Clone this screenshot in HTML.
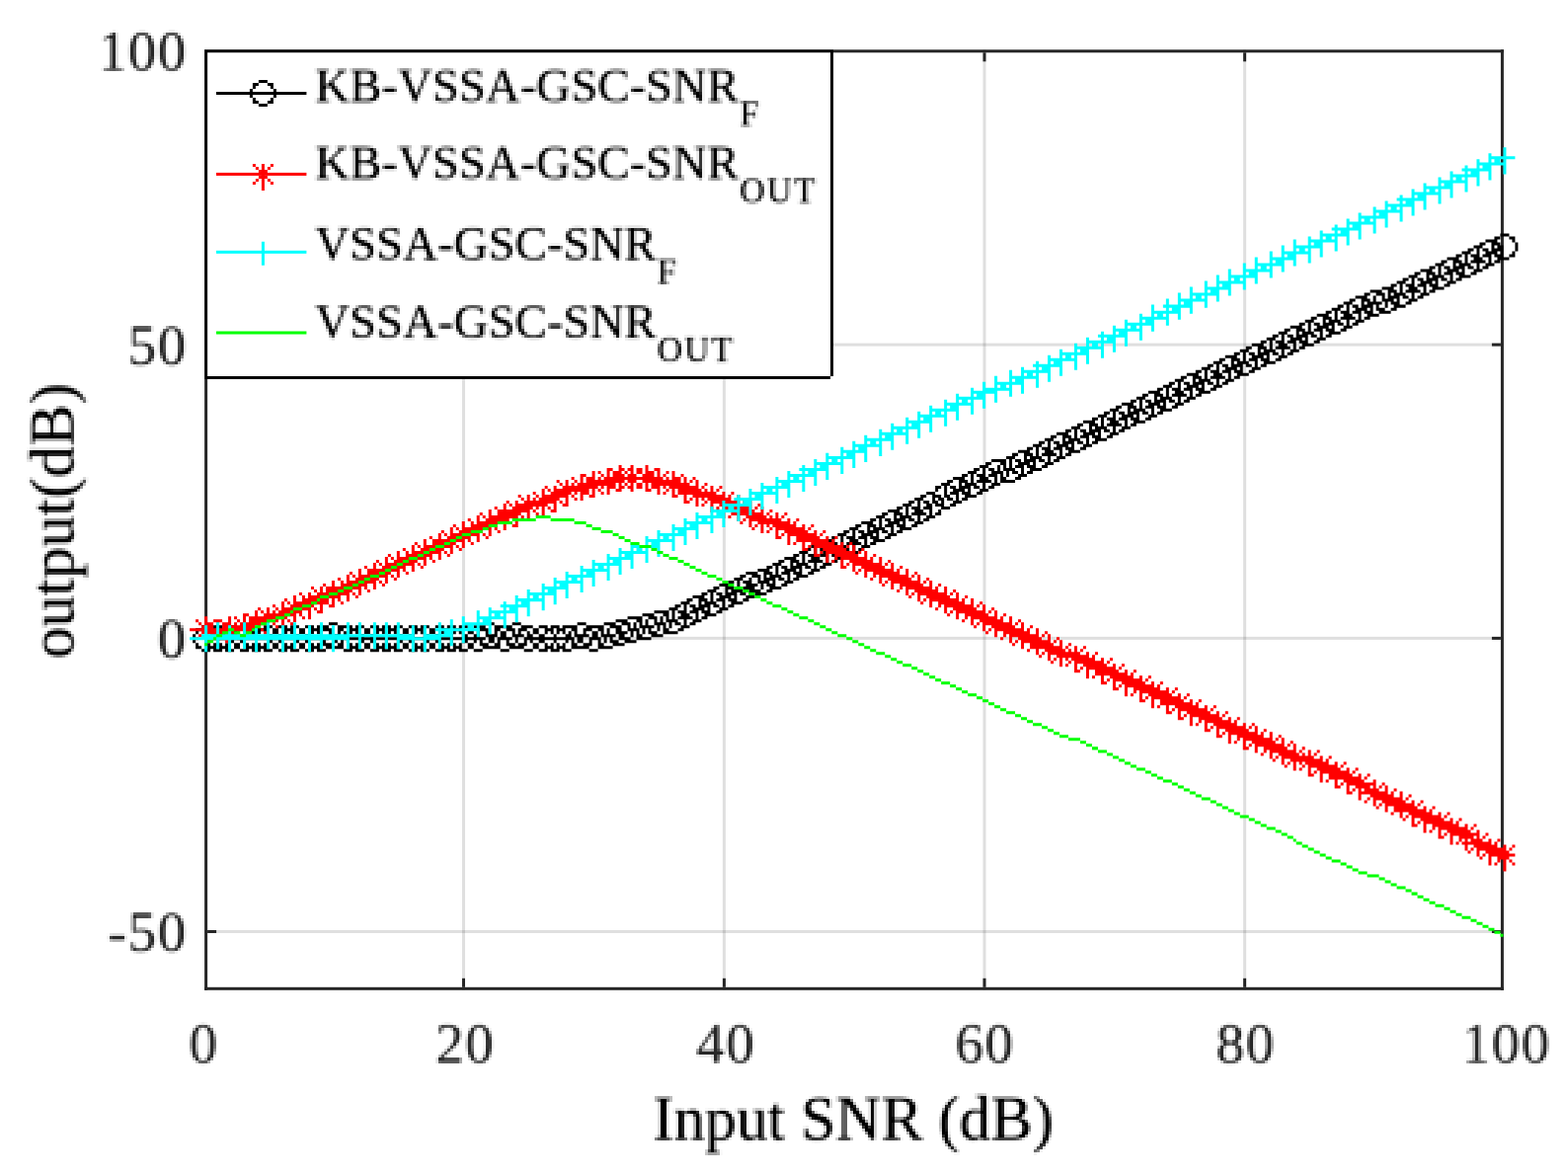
<!DOCTYPE html>
<html lang="en">
<head>
<meta charset="utf-8">
<title>Output SNR versus input SNR</title>
<style>
html,body{margin:0;padding:0;background:#fff;}
body{width:1588px;height:1190px;overflow:hidden;font-family:'Liberation Serif', 'Times New Roman', Times, serif;}
svg text{font-kerning:none;}
</style>
</head>
<body>
<svg width="1588" height="1190" viewBox="0 0 1588 1190" font-family="'Liberation Serif', 'Times New Roman', Times, serif" style="display:block"><defs><filter id="lowres" x="0" y="0" width="1588" height="1190" filterUnits="userSpaceOnUse" color-interpolation-filters="sRGB"><feGaussianBlur in="SourceGraphic" stdDeviation="0.87" result="b"/><feFlood x="1" y="1" width="1" height="1" flood-color="#000" result="f"/><feComposite in="f" in2="f" operator="over" x="0" y="0" width="3" height="3" result="c"/><feTile in="c" result="t"/><feComposite in="b" in2="t" operator="in" result="s"/><feMorphology in="s" operator="dilate" radius="1" result="m"/><feComponentTransfer in="m"><feFuncA type="linear" slope="1.15" intercept="0"/></feComponentTransfer></filter></defs><rect x="0" y="0" width="1588" height="1190" fill="#ffffff"/>
<rect x="468.0" y="50.3" width="3.0" height="952.5" fill="#262626" fill-opacity="0.15"/>
<rect x="731.9" y="50.3" width="3.0" height="952.5" fill="#262626" fill-opacity="0.15"/>
<rect x="995.5" y="50.3" width="3.0" height="952.5" fill="#262626" fill-opacity="0.15"/>
<rect x="1259.1" y="50.3" width="3.0" height="952.5" fill="#262626" fill-opacity="0.15"/>
<rect x="207.1" y="347.6" width="1315.8000000000002" height="3.0" fill="#262626" fill-opacity="0.15"/>
<rect x="207.1" y="644.9" width="1315.8000000000002" height="3.0" fill="#262626" fill-opacity="0.15"/>
<rect x="207.1" y="942.0" width="1315.8000000000002" height="3.0" fill="#262626" fill-opacity="0.15"/>
<rect x="207.1" y="50.3" width="1315.8000000000002" height="3.0" fill="#262626"/>
<rect x="207.1" y="999.8" width="1315.8000000000002" height="3.0" fill="#262626"/>
<rect x="207.1" y="50.3" width="3.0" height="952.5" fill="#262626"/>
<rect x="1519.9" y="50.3" width="3.0" height="952.5" fill="#262626"/>
<rect x="468.0" y="990.8" width="3.0" height="9.0" fill="#262626"/>
<rect x="468.0" y="53.3" width="3.0" height="9.0" fill="#262626"/>
<rect x="731.9" y="990.8" width="3.0" height="9.0" fill="#262626"/>
<rect x="731.9" y="53.3" width="3.0" height="9.0" fill="#262626"/>
<rect x="995.5" y="990.8" width="3.0" height="9.0" fill="#262626"/>
<rect x="995.5" y="53.3" width="3.0" height="9.0" fill="#262626"/>
<rect x="1259.1" y="990.8" width="3.0" height="9.0" fill="#262626"/>
<rect x="1259.1" y="53.3" width="3.0" height="9.0" fill="#262626"/>
<rect x="210.1" y="347.6" width="9.0" height="3.0" fill="#262626"/>
<rect x="1510.9" y="347.6" width="9.0" height="3.0" fill="#262626"/>
<rect x="210.1" y="644.9" width="9.0" height="3.0" fill="#262626"/>
<rect x="1510.9" y="644.9" width="9.0" height="3.0" fill="#262626"/>
<rect x="210.1" y="942.0" width="9.0" height="3.0" fill="#262626"/>
<rect x="1510.9" y="942.0" width="9.0" height="3.0" fill="#262626"/>
<g transform="matrix(2.9962 0 0 3.00505 0.36 -0.9)"><path fill="#000000" d="M507 79h3v1h-3zM505 80h2v1h-2zM510 80h2v1h-2zM502 81h4v1h-4zM511 81h1v1h-1zM500 82h2v1h-2zM504 82h3v1h-3zM512 82h1v3h-1zM498 83h3v1h-3zM504 83h1v1h-1zM506 83h2v1h-2zM496 84h2v1h-2zM499 84h1v2h-1zM501 84h2v1h-2zM504 84h4v1h-4zM494 85h3v1h-3zM502 85h4v1h-4zM507 85h1v1h-1zM511 85h1v1h-1zM492 86h2v1h-2zM495 86h1v3h-1zM497 86h3v1h-3zM501 86h3v1h-3zM505 86h3v1h-3zM510 86h2v1h-2zM489 87h4v1h-4zM498 87h3v1h-3zM503 87h1v2h-1zM506 87h4v1h-4zM487 88h2v1h-2zM491 88h3v1h-3zM497 88h5v1h-5zM505 88h2v1h-2zM485 89h3v1h-3zM491 89h1v1h-1zM493 89h4v1h-4zM499 89h1v2h-1zM502 89h3v1h-3zM483 90h2v1h-2zM486 90h1v3h-1zM488 90h2v1h-2zM491 90h4v1h-4zM496 90h2v1h-2zM501 90h2v1h-2zM480 91h4v1h-4zM489 91h4v1h-4zM494 91h1v1h-1zM498 91h3v1h-3zM478 92h2v1h-2zM482 92h3v1h-3zM488 92h3v1h-3zM492 92h3v1h-3zM497 92h2v1h-2zM476 93h3v1h-3zM482 93h1v1h-1zM484 93h4v1h-4zM490 93h1v2h-1zM493 93h4v1h-4zM474 94h2v1h-2zM477 94h1v2h-1zM479 94h2v1h-2zM482 94h4v1h-4zM487 94h2v1h-2zM492 94h2v1h-2zM472 95h3v1h-3zM480 95h4v1h-4zM485 95h1v1h-1zM489 95h3v1h-3zM470 96h2v1h-2zM473 96h1v3h-1zM475 96h3v1h-3zM479 96h3v1h-3zM483 96h3v1h-3zM488 96h2v1h-2zM467 97h4v1h-4zM476 97h3v1h-3zM481 97h1v2h-1zM484 97h4v1h-4zM463 98h4v1h-4zM469 98h3v1h-3zM475 98h5v1h-5zM483 98h2v1h-2zM461 99h2v1h-2zM465 99h3v1h-3zM469 99h1v1h-1zM471 99h4v1h-4zM477 99h1v2h-1zM480 99h3v1h-3zM458 100h4v1h-4zM464 100h1v2h-1zM467 100h1v1h-1zM469 100h4v1h-4zM474 100h2v1h-2zM479 100h2v1h-2zM456 101h2v1h-2zM460 101h3v1h-3zM467 101h4v1h-4zM472 101h1v1h-1zM476 101h3v1h-3zM454 102h3v1h-3zM460 102h1v1h-1zM462 102h5v1h-5zM468 102h1v2h-1zM470 102h3v1h-3zM475 102h2v1h-2zM452 103h2v1h-2zM455 103h1v2h-1zM457 103h2v1h-2zM460 103h4v1h-4zM465 103h1v1h-1zM471 103h4v1h-4zM450 104h3v1h-3zM458 104h4v1h-4zM463 104h1v1h-1zM465 104h3v1h-3zM470 104h2v1h-2zM448 105h2v1h-2zM451 105h1v3h-1zM453 105h3v1h-3zM457 105h3v1h-3zM461 105h3v1h-3zM466 105h4v1h-4zM445 106h4v1h-4zM454 106h3v1h-3zM459 106h1v2h-1zM462 106h4v1h-4zM443 107h2v1h-2zM447 107h3v1h-3zM453 107h5v1h-5zM461 107h2v1h-2zM441 108h3v1h-3zM447 108h1v1h-1zM449 108h4v1h-4zM455 108h1v2h-1zM458 108h3v1h-3zM439 109h2v1h-2zM442 109h1v3h-1zM444 109h2v1h-2zM447 109h4v1h-4zM452 109h2v1h-2zM457 109h2v1h-2zM436 110h4v1h-4zM445 110h4v1h-4zM450 110h1v1h-1zM454 110h3v1h-3zM434 111h2v1h-2zM438 111h3v1h-3zM444 111h3v1h-3zM448 111h3v1h-3zM453 111h2v1h-2zM432 112h3v1h-3zM438 112h1v1h-1zM440 112h4v1h-4zM446 112h1v2h-1zM449 112h4v1h-4zM430 113h2v1h-2zM433 113h1v2h-1zM435 113h2v1h-2zM438 113h4v1h-4zM443 113h2v1h-2zM448 113h2v1h-2zM428 114h3v1h-3zM436 114h4v1h-4zM441 114h1v1h-1zM445 114h3v1h-3zM426 115h2v1h-2zM429 115h1v3h-1zM431 115h3v1h-3zM435 115h3v1h-3zM439 115h3v1h-3zM444 115h2v1h-2zM423 116h4v1h-4zM432 116h3v1h-3zM437 116h1v2h-1zM440 116h4v1h-4zM421 117h2v1h-2zM425 117h3v1h-3zM431 117h5v1h-5zM439 117h2v1h-2zM419 118h3v1h-3zM425 118h1v1h-1zM427 118h4v1h-4zM433 118h1v2h-1zM436 118h3v1h-3zM417 119h2v1h-2zM420 119h1v3h-1zM422 119h2v1h-2zM425 119h4v1h-4zM430 119h2v1h-2zM435 119h2v1h-2zM414 120h4v1h-4zM423 120h4v1h-4zM428 120h1v1h-1zM432 120h3v1h-3zM412 121h2v1h-2zM416 121h3v1h-3zM422 121h3v1h-3zM426 121h3v1h-3zM431 121h2v1h-2zM410 122h3v1h-3zM416 122h1v1h-1zM418 122h4v1h-4zM424 122h1v2h-1zM427 122h4v1h-4zM408 123h2v1h-2zM411 123h1v2h-1zM413 123h2v1h-2zM416 123h4v1h-4zM421 123h2v1h-2zM426 123h2v1h-2zM406 124h3v1h-3zM414 124h4v1h-4zM419 124h1v1h-1zM423 124h3v1h-3zM404 125h2v1h-2zM407 125h1v3h-1zM409 125h3v1h-3zM413 125h3v1h-3zM417 125h3v1h-3zM422 125h2v1h-2zM401 126h4v1h-4zM410 126h3v1h-3zM415 126h1v2h-1zM418 126h4v1h-4zM399 127h2v1h-2zM403 127h3v1h-3zM409 127h5v1h-5zM417 127h2v1h-2zM397 128h3v1h-3zM403 128h1v1h-1zM405 128h4v1h-4zM411 128h1v2h-1zM414 128h3v1h-3zM395 129h2v1h-2zM398 129h1v2h-1zM400 129h2v1h-2zM403 129h4v1h-4zM408 129h2v1h-2zM413 129h2v1h-2zM393 130h3v1h-3zM401 130h4v1h-4zM406 130h1v1h-1zM410 130h3v1h-3zM391 131h2v1h-2zM394 131h1v3h-1zM396 131h3v1h-3zM400 131h3v1h-3zM404 131h3v1h-3zM409 131h2v1h-2zM388 132h4v1h-4zM397 132h3v1h-3zM402 132h1v2h-1zM405 132h4v1h-4zM386 133h2v1h-2zM390 133h3v1h-3zM396 133h5v1h-5zM404 133h2v1h-2zM384 134h3v1h-3zM390 134h1v1h-1zM392 134h4v1h-4zM398 134h1v2h-1zM401 134h3v1h-3zM382 135h2v1h-2zM385 135h1v3h-1zM387 135h2v1h-2zM390 135h4v1h-4zM395 135h2v1h-2zM400 135h2v1h-2zM379 136h4v1h-4zM388 136h4v1h-4zM393 136h1v1h-1zM397 136h3v1h-3zM377 137h2v1h-2zM381 137h3v1h-3zM387 137h3v1h-3zM391 137h3v1h-3zM396 137h2v1h-2zM375 138h3v1h-3zM381 138h1v1h-1zM383 138h4v1h-4zM389 138h1v2h-1zM392 138h4v1h-4zM373 139h2v1h-2zM376 139h1v2h-1zM378 139h2v1h-2zM381 139h4v1h-4zM386 139h2v1h-2zM391 139h2v1h-2zM371 140h3v1h-3zM379 140h4v1h-4zM384 140h1v1h-1zM388 140h3v1h-3zM369 141h2v1h-2zM372 141h1v3h-1zM374 141h3v1h-3zM378 141h3v1h-3zM382 141h3v1h-3zM387 141h2v1h-2zM366 142h4v1h-4zM375 142h3v1h-3zM380 142h1v2h-1zM383 142h4v1h-4zM364 143h2v1h-2zM368 143h3v1h-3zM374 143h5v1h-5zM382 143h2v1h-2zM362 144h3v1h-3zM368 144h1v1h-1zM370 144h4v1h-4zM376 144h1v2h-1zM379 144h3v1h-3zM360 145h2v1h-2zM363 145h1v3h-1zM365 145h2v1h-2zM368 145h4v1h-4zM373 145h2v1h-2zM378 145h2v1h-2zM357 146h4v1h-4zM366 146h4v1h-4zM371 146h1v1h-1zM375 146h3v1h-3zM355 147h2v1h-2zM359 147h3v1h-3zM365 147h3v1h-3zM369 147h3v1h-3zM374 147h2v1h-2zM353 148h3v1h-3zM359 148h1v1h-1zM361 148h4v1h-4zM367 148h1v2h-1zM370 148h4v1h-4zM351 149h2v1h-2zM354 149h1v2h-1zM356 149h2v1h-2zM359 149h4v1h-4zM364 149h2v1h-2zM369 149h2v1h-2zM349 150h3v1h-3zM357 150h4v1h-4zM362 150h1v1h-1zM366 150h3v1h-3zM347 151h2v1h-2zM350 151h1v3h-1zM352 151h3v1h-3zM356 151h3v1h-3zM360 151h3v1h-3zM365 151h2v1h-2zM344 152h4v1h-4zM353 152h3v1h-3zM358 152h1v2h-1zM361 152h4v1h-4zM342 153h2v1h-2zM346 153h3v1h-3zM352 153h5v1h-5zM360 153h2v1h-2zM340 154h3v1h-3zM346 154h1v1h-1zM348 154h4v1h-4zM354 154h1v2h-1zM357 154h3v1h-3zM335 155h5v1h-5zM341 155h1v3h-1zM343 155h2v1h-2zM346 155h4v1h-4zM351 155h2v1h-2zM356 155h2v1h-2zM333 156h2v1h-2zM338 156h2v1h-2zM344 156h4v1h-4zM349 156h1v1h-1zM353 156h3v1h-3zM331 157h3v1h-3zM337 157h1v2h-1zM339 157h1v1h-1zM343 157h3v1h-3zM347 157h3v1h-3zM352 157h2v1h-2zM329 158h2v1h-2zM332 158h1v2h-1zM334 158h2v1h-2zM339 158h4v1h-4zM345 158h1v2h-1zM348 158h4v1h-4zM327 159h3v1h-3zM335 159h4v1h-4zM340 159h1v2h-1zM342 159h2v1h-2zM347 159h2v1h-2zM325 160h2v1h-2zM328 160h1v3h-1zM330 160h3v1h-3zM334 160h3v1h-3zM338 160h1v1h-1zM344 160h3v1h-3zM322 161h4v1h-4zM331 161h3v1h-3zM336 161h1v2h-1zM338 161h2v1h-2zM343 161h2v1h-2zM320 162h2v1h-2zM324 162h3v1h-3zM330 162h5v1h-5zM338 162h5v1h-5zM318 163h3v1h-3zM324 163h1v1h-1zM326 163h4v1h-4zM332 163h1v2h-1zM335 163h3v1h-3zM316 164h2v1h-2zM319 164h1v3h-1zM321 164h2v1h-2zM324 164h4v1h-4zM329 164h2v1h-2zM334 164h2v1h-2zM316 165h1v1h-1zM322 165h4v1h-4zM327 165h1v1h-1zM331 165h3v1h-3zM313 166h3v1h-3zM321 166h3v1h-3zM325 166h3v1h-3zM330 166h2v1h-2zM311 167h2v1h-2zM315 167h3v1h-3zM319 167h2v1h-2zM323 167h1v2h-1zM326 167h4v1h-4zM309 168h3v1h-3zM315 168h1v1h-1zM317 168h2v1h-2zM320 168h2v1h-2zM325 168h2v1h-2zM307 169h2v1h-2zM310 169h1v2h-1zM312 169h2v1h-2zM315 169h2v1h-2zM318 169h1v1h-1zM322 169h3v1h-3zM305 170h3v1h-3zM313 170h2v1h-2zM316 170h3v1h-3zM321 170h2v1h-2zM303 171h2v1h-2zM306 171h1v3h-1zM308 171h3v1h-3zM312 171h3v1h-3zM318 171h3v1h-3zM300 172h4v1h-4zM309 172h3v1h-3zM314 172h1v2h-1zM317 172h1v1h-1zM298 173h2v1h-2zM302 173h3v1h-3zM308 173h5v1h-5zM316 173h2v1h-2zM296 174h3v1h-3zM302 174h1v1h-1zM304 174h4v1h-4zM310 174h1v2h-1zM313 174h3v1h-3zM294 175h2v1h-2zM297 175h1v3h-1zM299 175h2v1h-2zM302 175h4v1h-4zM307 175h2v1h-2zM312 175h2v1h-2zM291 176h4v1h-4zM300 176h4v1h-4zM305 176h1v1h-1zM309 176h3v1h-3zM289 177h2v1h-2zM293 177h3v1h-3zM299 177h3v1h-3zM303 177h3v1h-3zM308 177h2v1h-2zM287 178h3v1h-3zM293 178h1v1h-1zM295 178h4v1h-4zM301 178h1v2h-1zM304 178h4v1h-4zM285 179h2v1h-2zM288 179h1v2h-1zM290 179h2v1h-2zM293 179h4v1h-4zM298 179h2v1h-2zM303 179h2v1h-2zM283 180h3v1h-3zM291 180h4v1h-4zM296 180h1v1h-1zM300 180h3v1h-3zM281 181h2v1h-2zM284 181h1v3h-1zM286 181h3v1h-3zM290 181h3v1h-3zM294 181h3v1h-3zM299 181h2v1h-2zM278 182h4v1h-4zM287 182h3v1h-3zM292 182h1v2h-1zM295 182h4v1h-4zM276 183h2v1h-2zM280 183h3v1h-3zM286 183h5v1h-5zM294 183h2v1h-2zM274 184h3v1h-3zM280 184h1v1h-1zM282 184h4v1h-4zM288 184h1v2h-1zM291 184h3v1h-3zM272 185h2v1h-2zM275 185h1v2h-1zM277 185h2v1h-2zM280 185h4v1h-4zM285 185h2v1h-2zM290 185h2v1h-2zM270 186h3v1h-3zM278 186h4v1h-4zM283 186h1v1h-1zM287 186h3v1h-3zM268 187h2v1h-2zM271 187h1v3h-1zM273 187h3v1h-3zM277 187h3v1h-3zM281 187h3v1h-3zM286 187h2v1h-2zM265 188h4v1h-4zM274 188h3v1h-3zM279 188h1v2h-1zM282 188h4v1h-4zM263 189h2v1h-2zM267 189h3v1h-3zM273 189h5v1h-5zM281 189h2v1h-2zM261 190h3v1h-3zM267 190h1v1h-1zM269 190h4v1h-4zM275 190h1v2h-1zM278 190h3v1h-3zM259 191h2v1h-2zM262 191h1v3h-1zM264 191h2v1h-2zM267 191h4v1h-4zM272 191h2v1h-2zM277 191h2v1h-2zM256 192h4v1h-4zM265 192h4v1h-4zM270 192h1v1h-1zM274 192h3v1h-3zM252 193h4v1h-4zM258 193h3v1h-3zM264 193h3v1h-3zM268 193h3v1h-3zM273 193h2v1h-2zM250 194h2v1h-2zM254 194h3v1h-3zM258 194h1v1h-1zM260 194h4v1h-4zM266 194h1v2h-1zM269 194h4v1h-4zM248 195h3v1h-3zM253 195h1v1h-1zM256 195h1v1h-1zM258 195h4v1h-4zM263 195h2v1h-2zM268 195h2v1h-2zM246 196h2v1h-2zM249 196h1v3h-1zM251 196h3v1h-3zM256 196h4v1h-4zM261 196h1v1h-1zM265 196h3v1h-3zM243 197h4v1h-4zM252 197h4v1h-4zM257 197h1v2h-1zM259 197h3v1h-3zM264 197h2v1h-2zM241 198h2v1h-2zM245 198h3v1h-3zM251 198h4v1h-4zM260 198h4v1h-4zM239 199h3v1h-3zM245 199h1v1h-1zM247 199h4v1h-4zM253 199h4v1h-4zM259 199h2v1h-2zM237 200h2v1h-2zM240 200h1v3h-1zM242 200h2v1h-2zM245 200h4v1h-4zM250 200h2v1h-2zM253 200h1v1h-1zM255 200h4v1h-4zM234 201h4v1h-4zM243 201h4v1h-4zM248 201h1v1h-1zM252 201h3v1h-3zM232 202h2v1h-2zM236 202h3v1h-3zM242 202h3v1h-3zM246 202h3v1h-3zM251 202h2v1h-2zM230 203h3v1h-3zM236 203h1v1h-1zM238 203h4v1h-4zM244 203h1v2h-1zM247 203h4v1h-4zM228 204h2v1h-2zM231 204h1v2h-1zM233 204h2v1h-2zM236 204h4v1h-4zM241 204h2v1h-2zM246 204h2v1h-2zM226 205h3v1h-3zM234 205h4v1h-4zM239 205h1v1h-1zM243 205h3v1h-3zM221 206h5v1h-5zM227 206h1v3h-1zM229 206h3v1h-3zM233 206h3v1h-3zM237 206h3v1h-3zM242 206h2v1h-2zM217 207h4v1h-4zM224 207h2v1h-2zM230 207h3v1h-3zM235 207h1v2h-1zM238 207h4v1h-4zM212 208h5v1h-5zM219 208h3v1h-3zM223 208h1v2h-1zM225 208h1v1h-1zM229 208h5v1h-5zM237 208h2v1h-2zM208 209h4v1h-4zM215 209h2v1h-2zM218 209h1v2h-1zM221 209h1v1h-1zM225 209h4v1h-4zM231 209h1v2h-1zM234 209h3v1h-3zM111 210h3v1h-3zM164 210h3v1h-3zM173 210h3v1h-3zM195 210h3v1h-3zM204 210h4v1h-4zM210 210h3v1h-3zM214 210h1v2h-1zM216 210h1v1h-1zM221 210h4v1h-4zM226 210h1v2h-1zM228 210h2v1h-2zM233 210h2v1h-2zM68 211h3v1h-3zM72 211h3v1h-3zM76 211h3v1h-3zM81 211h3v1h-3zM85 211h3v1h-3zM89 211h3v1h-3zM94 211h3v1h-3zM98 211h3v1h-3zM103 211h3v1h-3zM107 211h4v1h-4zM114 211h5v1h-5zM120 211h3v1h-3zM125 211h3v1h-3zM129 211h3v1h-3zM133 211h3v1h-3zM138 211h3v1h-3zM142 211h3v1h-3zM147 211h3v1h-3zM151 211h3v1h-3zM155 211h3v1h-3zM160 211h4v1h-4zM167 211h6v1h-6zM176 211h4v1h-4zM182 211h3v1h-3zM186 211h3v1h-3zM190 211h5v1h-5zM198 211h6v1h-6zM206 211h4v1h-4zM212 211h1v1h-1zM216 211h5v1h-5zM222 211h1v2h-1zM224 211h1v1h-1zM230 211h3v1h-3zM66 212h2v1h-2zM70 212h3v1h-3zM74 212h3v1h-3zM79 212h2v2h-2zM83 212h3v1h-3zM87 212h3v1h-3zM92 212h2v2h-2zM96 212h3v1h-3zM101 212h2v2h-2zM105 212h3v1h-3zM109 212h3v1h-3zM114 212h2v1h-2zM118 212h3v1h-3zM123 212h2v2h-2zM127 212h3v1h-3zM131 212h3v1h-3zM136 212h2v2h-2zM140 212h3v1h-3zM145 212h2v2h-2zM149 212h3v1h-3zM153 212h3v1h-3zM158 212h2v2h-2zM162 212h3v1h-3zM167 212h2v1h-2zM171 212h3v1h-3zM175 212h3v1h-3zM180 212h2v2h-2zM184 212h3v1h-3zM188 212h3v1h-3zM193 212h2v1h-2zM197 212h3v1h-3zM202 212h2v1h-2zM205 212h1v2h-1zM208 212h2v1h-2zM212 212h4v1h-4zM217 212h1v2h-1zM219 212h1v1h-1zM224 212h2v1h-2zM229 212h2v1h-2zM66 213h1v1h-1zM70 213h1v1h-1zM72 213h1v1h-1zM74 213h1v1h-1zM76 213h1v1h-1zM83 213h1v1h-1zM85 213h1v1h-1zM87 213h1v1h-1zM89 213h1v1h-1zM96 213h1v1h-1zM98 213h1v1h-1zM105 213h1v1h-1zM107 213h2v1h-2zM111 213h1v1h-1zM114 213h1v1h-1zM116 213h1v1h-1zM118 213h1v1h-1zM120 213h1v1h-1zM127 213h1v1h-1zM129 213h1v1h-1zM131 213h1v1h-1zM133 213h1v1h-1zM140 213h1v1h-1zM142 213h1v1h-1zM149 213h1v1h-1zM151 213h1v1h-1zM153 213h1v1h-1zM155 213h1v1h-1zM161 213h1v1h-1zM164 213h1v1h-1zM167 213h1v1h-1zM169 213h2v2h-2zM173 213h1v1h-1zM175 213h1v1h-1zM178 213h1v1h-1zM184 213h1v1h-1zM186 213h1v1h-1zM188 213h1v1h-1zM190 213h1v1h-1zM192 213h1v1h-1zM194 213h1v1h-1zM197 213h1v1h-1zM200 213h2v2h-2zM203 213h1v1h-1zM208 213h4v1h-4zM213 213h1v2h-1zM215 213h1v1h-1zM219 213h3v1h-3zM224 213h5v1h-5zM65 214h1v3h-1zM69 214h1v1h-1zM73 214h1v1h-1zM77 214h2v1h-2zM81 214h2v1h-2zM86 214h1v1h-1zM90 214h2v1h-2zM94 214h2v1h-2zM99 214h2v1h-2zM103 214h2v1h-2zM108 214h1v1h-1zM111 214h4v1h-4zM116 214h2v1h-2zM121 214h2v1h-2zM125 214h2v1h-2zM130 214h1v1h-1zM134 214h2v1h-2zM138 214h2v1h-2zM143 214h2v1h-2zM147 214h2v1h-2zM152 214h1v1h-1zM156 214h2v1h-2zM160 214h2v1h-2zM164 214h4v1h-4zM173 214h4v1h-4zM178 214h2v1h-2zM182 214h2v1h-2zM187 214h1v1h-1zM191 214h2v1h-2zM194 214h5v1h-5zM203 214h5v1h-5zM209 214h2v1h-2zM215 214h2v1h-2zM220 214h4v1h-4zM69 215h42v1h-42zM112 215h2v2h-2zM115 215h49v1h-49zM165 215h2v2h-2zM168 215h5v1h-5zM174 215h1v2h-1zM177 215h17v1h-17zM195 215h2v2h-2zM199 215h4v1h-4zM204 215h1v2h-1zM206 215h1v1h-1zM209 215h4v1h-4zM215 215h5v1h-5zM69 216h1v1h-1zM73 216h1v1h-1zM77 216h2v1h-2zM81 216h2v1h-2zM86 216h1v1h-1zM90 216h2v1h-2zM94 216h2v1h-2zM99 216h2v1h-2zM103 216h2v1h-2zM108 216h2v1h-2zM115 216h1v1h-1zM117 216h1v1h-1zM121 216h2v1h-2zM125 216h2v1h-2zM130 216h1v1h-1zM134 216h2v1h-2zM138 216h2v1h-2zM143 216h2v1h-2zM147 216h2v1h-2zM152 216h1v1h-1zM156 216h2v1h-2zM160 216h1v1h-1zM162 216h1v1h-1zM168 216h1v1h-1zM171 216h1v1h-1zM177 216h1v1h-1zM179 216h1v1h-1zM182 216h2v1h-2zM187 216h1v1h-1zM191 216h1v1h-1zM193 216h1v1h-1zM199 216h1v1h-1zM202 216h1v1h-1zM206 216h3v1h-3zM211 216h4v1h-4zM66 217h1v1h-1zM70 217h1v1h-1zM72 217h1v1h-1zM74 217h1v1h-1zM76 217h1v1h-1zM79 217h2v2h-2zM83 217h1v1h-1zM85 217h1v1h-1zM87 217h1v1h-1zM89 217h1v1h-1zM92 217h2v2h-2zM96 217h1v1h-1zM98 217h1v1h-1zM101 217h2v2h-2zM105 217h1v1h-1zM107 217h1v1h-1zM109 217h3v1h-3zM114 217h2v1h-2zM118 217h1v1h-1zM120 217h1v1h-1zM123 217h2v2h-2zM127 217h1v1h-1zM129 217h1v1h-1zM131 217h1v1h-1zM133 217h1v1h-1zM136 217h2v2h-2zM140 217h1v1h-1zM142 217h1v1h-1zM145 217h2v2h-2zM149 217h1v1h-1zM151 217h1v1h-1zM153 217h1v1h-1zM155 217h1v1h-1zM158 217h2v2h-2zM162 217h3v1h-3zM167 217h2v1h-2zM171 217h3v1h-3zM175 217h3v1h-3zM180 217h2v2h-2zM184 217h1v1h-1zM186 217h1v1h-1zM188 217h1v1h-1zM190 217h1v1h-1zM193 217h2v1h-2zM197 217h3v1h-3zM202 217h2v1h-2zM207 217h4v1h-4zM66 218h2v1h-2zM70 218h3v1h-3zM74 218h3v1h-3zM83 218h3v1h-3zM87 218h3v1h-3zM96 218h3v1h-3zM105 218h3v1h-3zM110 218h6v1h-6zM118 218h3v1h-3zM127 218h3v1h-3zM131 218h3v1h-3zM140 218h3v1h-3zM149 218h3v1h-3zM153 218h3v1h-3zM163 218h6v1h-6zM172 218h5v1h-5zM184 218h3v1h-3zM188 218h3v1h-3zM193 218h6v1h-6zM202 218h5v1h-5zM68 219h3v1h-3zM72 219h3v1h-3zM76 219h3v1h-3zM81 219h3v1h-3zM85 219h3v1h-3zM89 219h3v1h-3zM94 219h3v1h-3zM98 219h3v1h-3zM103 219h3v1h-3zM107 219h3v1h-3zM116 219h3v1h-3zM120 219h3v1h-3zM125 219h3v1h-3zM129 219h3v1h-3zM133 219h3v1h-3zM138 219h3v1h-3zM142 219h3v1h-3zM147 219h3v1h-3zM151 219h3v1h-3zM155 219h3v1h-3zM160 219h3v1h-3zM169 219h3v1h-3zM177 219h3v1h-3zM182 219h3v1h-3zM186 219h3v1h-3zM190 219h3v1h-3zM199 219h3v1h-3z"/><path fill="#ff0000" d="M209 157h1v1h-1zM213 157h1v1h-1zM218 157h1v2h-1zM205 158h2v1h-2zM209 158h2v1h-2zM212 158h2v1h-2zM215 158h2v2h-2zM221 158h2v1h-2zM200 159h1v2h-1zM202 159h1v1h-1zM205 159h1v2h-1zM207 159h3v1h-3zM211 159h1v1h-1zM213 159h1v1h-1zM218 159h3v1h-3zM222 159h1v2h-1zM225 159h1v1h-1zM227 159h1v2h-1zM196 160h2v1h-2zM203 160h1v1h-1zM207 160h4v1h-4zM212 160h3v1h-3zM217 160h4v1h-4zM224 160h1v1h-1zM230 160h1v1h-1zM193 161h1v1h-1zM196 161h1v2h-1zM198 161h3v1h-3zM202 161h1v1h-1zM204 161h20v1h-20zM225 161h1v1h-1zM227 161h3v1h-3zM231 161h1v2h-1zM234 161h1v1h-1zM188 162h1v1h-1zM191 162h1v2h-1zM194 162h1v1h-1zM198 162h13v1h-13zM212 162h3v1h-3zM217 162h13v1h-13zM233 162h1v1h-1zM235 162h1v2h-1zM189 163h1v1h-1zM193 163h1v1h-1zM195 163h13v1h-13zM209 163h1v1h-1zM211 163h1v1h-1zM213 163h1v1h-1zM215 163h2v2h-2zM218 163h1v2h-1zM220 163h13v1h-13zM238 163h1v1h-1zM184 164h1v1h-1zM187 164h1v1h-1zM190 164h12v1h-12zM203 164h1v1h-1zM205 164h3v1h-3zM209 164h2v1h-2zM212 164h2v1h-2zM220 164h3v1h-3zM224 164h1v1h-1zM226 164h10v1h-10zM237 164h1v1h-1zM240 164h1v2h-1zM243 164h1v1h-1zM183 165h1v2h-1zM185 165h1v1h-1zM187 165h12v1h-12zM200 165h1v2h-1zM202 165h1v1h-1zM205 165h1v2h-1zM208 165h2v1h-2zM213 165h1v1h-1zM218 165h2v1h-2zM222 165h1v2h-1zM225 165h1v1h-1zM227 165h1v2h-1zM229 165h8v1h-8zM238 165h1v1h-1zM242 165h1v1h-1zM180 166h1v1h-1zM186 166h7v1h-7zM194 166h1v1h-1zM196 166h3v1h-3zM203 166h1v1h-1zM224 166h1v1h-1zM229 166h13v1h-13zM244 166h1v1h-1zM247 166h1v1h-1zM175 167h1v1h-1zM178 167h1v2h-1zM181 167h1v1h-1zM183 167h9v1h-9zM193 167h1v1h-1zM196 167h1v2h-1zM199 167h2v1h-2zM227 167h2v1h-2zM231 167h1v2h-1zM234 167h11v1h-11zM246 167h1v1h-1zM249 167h1v2h-1zM176 168h1v1h-1zM180 168h1v1h-1zM182 168h7v1h-7zM191 168h1v2h-1zM194 168h1v1h-1zM233 168h1v1h-1zM235 168h1v3h-1zM237 168h1v1h-1zM239 168h8v1h-8zM252 168h1v1h-1zM171 169h1v1h-1zM174 169h1v1h-1zM177 169h11v1h-11zM189 169h1v1h-1zM231 169h2v1h-2zM238 169h1v1h-1zM240 169h10v1h-10zM251 169h1v1h-1zM253 169h1v2h-1zM170 170h1v2h-1zM172 170h1v1h-1zM174 170h11v1h-11zM187 170h1v2h-1zM190 170h2v1h-2zM237 170h1v1h-1zM240 170h1v2h-1zM243 170h8v1h-8zM256 170h1v1h-1zM167 171h1v1h-1zM173 171h7v1h-7zM181 171h1v1h-1zM183 171h1v3h-1zM185 171h1v1h-1zM242 171h1v1h-1zM244 171h10v1h-10zM255 171h1v1h-1zM257 171h1v2h-1zM165 172h1v2h-1zM168 172h11v1h-11zM180 172h1v1h-1zM186 172h2v1h-2zM240 172h2v1h-2zM244 172h1v3h-1zM247 172h8v1h-8zM260 172h1v1h-1zM162 173h1v1h-1zM168 173h8v1h-8zM178 173h1v2h-1zM181 173h1v1h-1zM247 173h11v1h-11zM259 173h1v1h-1zM262 173h1v2h-1zM265 173h1v1h-1zM161 174h1v2h-1zM163 174h1v1h-1zM165 174h10v1h-10zM176 174h1v1h-1zM246 174h1v1h-1zM249 174h1v2h-1zM252 174h7v1h-7zM260 174h1v1h-1zM264 174h1v1h-1zM158 175h1v1h-1zM164 175h8v1h-8zM174 175h1v2h-1zM177 175h2v1h-2zM251 175h1v1h-1zM253 175h11v1h-11zM266 175h1v1h-1zM269 175h1v1h-1zM156 176h1v2h-1zM159 176h1v1h-1zM161 176h10v1h-10zM172 176h1v1h-1zM250 176h1v1h-1zM253 176h1v2h-1zM256 176h11v1h-11zM268 176h1v1h-1zM153 177h1v1h-1zM159 177h9v1h-9zM170 177h1v2h-1zM173 177h2v1h-2zM255 177h1v1h-1zM257 177h1v3h-1zM259 177h1v1h-1zM261 177h8v1h-8zM271 177h1v1h-1zM274 177h1v1h-1zM152 178h1v2h-1zM154 178h1v1h-1zM156 178h10v1h-10zM167 178h1v1h-1zM254 178h1v1h-1zM260 178h1v1h-1zM262 178h10v1h-10zM273 178h1v1h-1zM149 179h1v1h-1zM155 179h8v1h-8zM165 179h1v2h-1zM168 179h1v1h-1zM259 179h1v1h-1zM262 179h1v2h-1zM265 179h8v1h-8zM275 179h1v1h-1zM278 179h1v1h-1zM148 180h1v2h-1zM150 180h1v1h-1zM152 180h10v1h-10zM163 180h1v1h-1zM264 180h1v1h-1zM266 180h10v1h-10zM277 180h1v1h-1zM145 181h1v1h-1zM151 181h8v1h-8zM161 181h1v2h-1zM164 181h1v1h-1zM262 181h2v1h-2zM266 181h1v3h-1zM269 181h8v1h-8zM279 181h1v1h-1zM282 181h1v1h-1zM143 182h1v2h-1zM146 182h11v1h-11zM158 182h1v1h-1zM269 182h11v1h-11zM281 182h1v1h-1zM140 183h1v1h-1zM146 183h8v1h-8zM156 183h1v2h-1zM159 183h1v1h-1zM268 183h1v1h-1zM271 183h1v2h-1zM274 183h8v1h-8zM284 183h1v1h-1zM287 183h1v1h-1zM139 184h1v2h-1zM141 184h1v1h-1zM143 184h10v1h-10zM154 184h1v1h-1zM273 184h1v1h-1zM275 184h10v1h-10zM286 184h1v1h-1zM288 184h1v2h-1zM136 185h1v1h-1zM142 185h8v1h-8zM152 185h1v2h-1zM155 185h1v1h-1zM271 185h2v1h-2zM275 185h1v2h-1zM278 185h8v1h-8zM291 185h1v1h-1zM134 186h1v2h-1zM137 186h1v1h-1zM139 186h10v1h-10zM150 186h1v1h-1zM277 186h1v1h-1zM279 186h10v1h-10zM290 186h1v1h-1zM292 186h1v2h-1zM131 187h1v1h-1zM137 187h9v1h-9zM148 187h1v2h-1zM151 187h1v1h-1zM275 187h2v1h-2zM279 187h1v3h-1zM282 187h8v1h-8zM295 187h1v1h-1zM130 188h1v2h-1zM132 188h1v1h-1zM134 188h10v1h-10zM145 188h1v1h-1zM282 188h1v1h-1zM284 188h9v1h-9zM294 188h1v1h-1zM297 188h1v2h-1zM127 189h1v1h-1zM133 189h8v1h-8zM143 189h1v2h-1zM146 189h1v1h-1zM281 189h1v1h-1zM284 189h1v2h-1zM287 189h8v1h-8zM300 189h1v1h-1zM126 190h1v2h-1zM128 190h1v1h-1zM130 190h10v1h-10zM141 190h1v1h-1zM286 190h1v1h-1zM288 190h10v1h-10zM299 190h1v1h-1zM301 190h1v2h-1zM123 191h1v1h-1zM129 191h8v1h-8zM139 191h1v2h-1zM142 191h1v1h-1zM284 191h2v1h-2zM288 191h1v2h-1zM291 191h8v1h-8zM304 191h1v1h-1zM121 192h1v2h-1zM124 192h11v1h-11zM136 192h1v1h-1zM290 192h1v1h-1zM292 192h10v1h-10zM303 192h1v1h-1zM306 192h1v2h-1zM118 193h1v1h-1zM124 193h8v1h-8zM134 193h1v2h-1zM137 193h1v1h-1zM289 193h1v1h-1zM292 193h1v2h-1zM295 193h9v1h-9zM309 193h1v1h-1zM117 194h1v2h-1zM119 194h1v1h-1zM121 194h10v1h-10zM132 194h1v1h-1zM295 194h1v1h-1zM297 194h10v1h-10zM308 194h1v1h-1zM310 194h1v2h-1zM114 195h1v1h-1zM120 195h8v1h-8zM130 195h1v2h-1zM133 195h1v1h-1zM294 195h1v1h-1zM297 195h1v2h-1zM300 195h8v1h-8zM313 195h1v1h-1zM112 196h1v2h-1zM115 196h1v1h-1zM117 196h10v1h-10zM128 196h1v1h-1zM299 196h1v1h-1zM301 196h10v1h-10zM312 196h1v1h-1zM314 196h1v2h-1zM109 197h1v1h-1zM115 197h9v1h-9zM126 197h1v2h-1zM129 197h1v1h-1zM298 197h1v1h-1zM301 197h1v2h-1zM304 197h8v1h-8zM317 197h1v1h-1zM105 198h1v1h-1zM108 198h1v2h-1zM110 198h12v1h-12zM123 198h1v1h-1zM304 198h1v1h-1zM306 198h9v1h-9zM316 198h1v1h-1zM319 198h1v2h-1zM106 199h1v1h-1zM110 199h9v1h-9zM121 199h1v2h-1zM124 199h1v1h-1zM303 199h1v1h-1zM306 199h1v2h-1zM309 199h8v1h-8zM322 199h1v1h-1zM101 200h1v1h-1zM104 200h1v1h-1zM107 200h11v1h-11zM119 200h1v1h-1zM308 200h1v1h-1zM310 200h10v1h-10zM321 200h1v1h-1zM323 200h1v2h-1zM99 201h1v2h-1zM102 201h1v1h-1zM104 201h11v1h-11zM117 201h1v2h-1zM120 201h1v1h-1zM307 201h1v1h-1zM310 201h1v2h-1zM313 201h8v1h-8zM326 201h1v1h-1zM96 202h1v1h-1zM102 202h9v1h-9zM112 202h1v2h-1zM114 202h1v1h-1zM312 202h1v1h-1zM314 202h10v1h-10zM325 202h1v1h-1zM328 202h1v2h-1zM95 203h1v2h-1zM97 203h1v1h-1zM99 203h12v1h-12zM115 203h1v1h-1zM311 203h1v1h-1zM314 203h1v2h-1zM317 203h9v1h-9zM331 203h1v1h-1zM92 204h1v1h-1zM98 204h8v1h-8zM108 204h1v2h-1zM111 204h2v1h-2zM317 204h1v1h-1zM319 204h10v1h-10zM330 204h1v1h-1zM332 204h1v2h-1zM87 205h1v1h-1zM90 205h1v2h-1zM93 205h1v1h-1zM95 205h10v1h-10zM106 205h1v1h-1zM316 205h1v1h-1zM319 205h1v2h-1zM322 205h8v1h-8zM335 205h1v1h-1zM86 206h1v2h-1zM88 206h1v1h-1zM92 206h1v1h-1zM94 206h8v1h-8zM104 206h1v3h-1zM107 206h2v1h-2zM321 206h1v1h-1zM323 206h10v1h-10zM334 206h1v1h-1zM336 206h1v2h-1zM82 207h2v1h-2zM89 207h11v1h-11zM101 207h1v1h-1zM320 207h1v1h-1zM323 207h1v2h-1zM326 207h8v1h-8zM339 207h1v1h-1zM69 208h1v2h-1zM77 208h1v2h-1zM79 208h1v1h-1zM82 208h1v2h-1zM84 208h13v1h-13zM99 208h1v2h-1zM102 208h1v1h-1zM326 208h1v1h-1zM328 208h9v1h-9zM338 208h1v1h-1zM341 208h1v2h-1zM66 209h1v1h-1zM72 209h3v1h-3zM80 209h1v1h-1zM84 209h8v1h-8zM93 209h1v1h-1zM95 209h1v3h-1zM97 209h1v1h-1zM325 209h1v1h-1zM328 209h1v2h-1zM331 209h8v1h-8zM344 209h1v1h-1zM67 210h1v1h-1zM69 210h3v1h-3zM73 210h1v2h-1zM75 210h3v1h-3zM79 210h1v1h-1zM81 210h10v1h-10zM92 210h1v1h-1zM98 210h1v1h-1zM330 210h1v1h-1zM332 210h10v1h-10zM343 210h1v1h-1zM345 210h1v2h-1zM68 211h4v1h-4zM75 211h13v1h-13zM90 211h1v2h-1zM93 211h1v1h-1zM329 211h1v1h-1zM332 211h1v2h-1zM335 211h8v1h-8zM348 211h1v1h-1zM64 212h21v1h-21zM86 212h1v2h-1zM88 212h1v1h-1zM334 212h1v1h-1zM336 212h10v1h-10zM347 212h1v1h-1zM350 212h1v2h-1zM68 213h11v1h-11zM80 213h1v1h-1zM82 213h3v1h-3zM89 213h2v1h-2zM333 213h1v1h-1zM336 213h1v2h-1zM339 213h9v1h-9zM353 213h1v1h-1zM67 214h1v1h-1zM69 214h1v2h-1zM71 214h5v2h-5zM77 214h1v2h-1zM79 214h1v1h-1zM82 214h1v2h-1zM85 214h2v1h-2zM339 214h1v1h-1zM341 214h10v1h-10zM352 214h1v1h-1zM354 214h1v2h-1zM66 215h1v1h-1zM80 215h1v1h-1zM338 215h1v1h-1zM341 215h1v2h-1zM344 215h8v1h-8zM357 215h1v1h-1zM69 216h2v1h-2zM73 216h1v2h-1zM76 216h2v1h-2zM343 216h1v1h-1zM345 216h10v1h-10zM356 216h1v1h-1zM358 216h1v2h-1zM342 217h1v1h-1zM345 217h1v2h-1zM348 217h8v1h-8zM361 217h1v1h-1zM348 218h11v1h-11zM360 218h1v1h-1zM363 218h1v2h-1zM366 218h1v1h-1zM347 219h1v1h-1zM350 219h1v2h-1zM353 219h7v1h-7zM361 219h1v1h-1zM365 219h1v1h-1zM352 220h1v1h-1zM354 220h11v1h-11zM367 220h1v1h-1zM370 220h1v1h-1zM351 221h1v1h-1zM354 221h1v2h-1zM357 221h11v1h-11zM369 221h1v1h-1zM356 222h1v1h-1zM358 222h1v3h-1zM360 222h1v1h-1zM362 222h8v1h-8zM372 222h1v1h-1zM375 222h1v1h-1zM355 223h1v1h-1zM361 223h1v1h-1zM363 223h10v1h-10zM374 223h1v1h-1zM360 224h1v1h-1zM363 224h1v2h-1zM366 224h8v1h-8zM376 224h1v1h-1zM379 224h1v1h-1zM365 225h1v1h-1zM367 225h10v1h-10zM378 225h1v1h-1zM363 226h2v1h-2zM367 226h1v3h-1zM370 226h8v1h-8zM380 226h1v1h-1zM383 226h1v1h-1zM370 227h11v1h-11zM382 227h1v1h-1zM369 228h1v1h-1zM372 228h1v2h-1zM375 228h8v1h-8zM385 228h1v1h-1zM388 228h1v1h-1zM374 229h1v1h-1zM376 229h10v1h-10zM387 229h1v1h-1zM372 230h2v1h-2zM376 230h1v2h-1zM379 230h8v1h-8zM389 230h1v1h-1zM392 230h1v1h-1zM378 231h1v1h-1zM380 231h10v1h-10zM391 231h1v1h-1zM376 232h2v1h-2zM380 232h1v3h-1zM383 232h9v1h-9zM394 232h1v1h-1zM397 232h1v1h-1zM383 233h1v1h-1zM385 233h10v1h-10zM396 233h1v1h-1zM382 234h1v1h-1zM385 234h1v2h-1zM388 234h8v1h-8zM398 234h1v1h-1zM401 234h1v1h-1zM387 235h1v1h-1zM389 235h10v1h-10zM400 235h1v1h-1zM385 236h2v1h-2zM389 236h1v3h-1zM392 236h8v1h-8zM402 236h1v1h-1zM405 236h1v1h-1zM392 237h11v1h-11zM404 237h1v1h-1zM391 238h1v1h-1zM394 238h1v2h-1zM397 238h8v1h-8zM407 238h1v1h-1zM410 238h1v1h-1zM396 239h1v1h-1zM398 239h10v1h-10zM409 239h1v1h-1zM394 240h2v1h-2zM398 240h1v2h-1zM401 240h8v1h-8zM411 240h1v1h-1zM414 240h1v1h-1zM400 241h1v1h-1zM402 241h10v1h-10zM413 241h1v1h-1zM398 242h2v1h-2zM402 242h1v3h-1zM405 242h8v1h-8zM415 242h1v1h-1zM418 242h1v1h-1zM405 243h1v1h-1zM407 243h9v1h-9zM417 243h1v1h-1zM404 244h1v1h-1zM407 244h1v2h-1zM410 244h8v1h-8zM420 244h1v1h-1zM423 244h1v1h-1zM409 245h1v1h-1zM411 245h10v1h-10zM422 245h1v1h-1zM424 245h1v2h-1zM407 246h2v1h-2zM411 246h1v2h-1zM414 246h8v1h-8zM427 246h1v1h-1zM413 247h1v1h-1zM415 247h10v1h-10zM426 247h1v1h-1zM429 247h1v2h-1zM411 248h2v1h-2zM415 248h1v3h-1zM418 248h9v1h-9zM432 248h1v1h-1zM418 249h1v1h-1zM420 249h10v1h-10zM431 249h1v1h-1zM433 249h1v2h-1zM417 250h1v1h-1zM420 250h1v2h-1zM423 250h8v1h-8zM436 250h1v1h-1zM422 251h1v1h-1zM424 251h10v1h-10zM435 251h1v1h-1zM437 251h1v2h-1zM420 252h2v1h-2zM424 252h1v2h-1zM427 252h8v1h-8zM440 252h1v1h-1zM427 253h1v1h-1zM429 253h9v1h-9zM439 253h1v1h-1zM442 253h1v2h-1zM445 253h1v1h-1zM426 254h1v1h-1zM429 254h1v2h-1zM432 254h7v1h-7zM440 254h1v1h-1zM444 254h1v1h-1zM431 255h1v1h-1zM433 255h11v1h-11zM446 255h1v1h-1zM449 255h1v1h-1zM430 256h1v1h-1zM433 256h1v2h-1zM436 256h11v1h-11zM448 256h1v1h-1zM435 257h1v1h-1zM437 257h1v3h-1zM439 257h1v1h-1zM441 257h8v1h-8zM451 257h1v1h-1zM454 257h1v1h-1zM434 258h1v1h-1zM440 258h1v1h-1zM442 258h10v1h-10zM453 258h1v1h-1zM439 259h1v1h-1zM442 259h1v2h-1zM445 259h8v1h-8zM455 259h1v1h-1zM458 259h1v1h-1zM444 260h1v1h-1zM446 260h10v1h-10zM457 260h1v1h-1zM442 261h2v1h-2zM446 261h1v3h-1zM449 261h8v1h-8zM459 261h1v1h-1zM462 261h1v1h-1zM449 262h11v1h-11zM461 262h1v1h-1zM448 263h1v1h-1zM451 263h1v2h-1zM454 263h7v1h-7zM464 263h1v1h-1zM453 264h1v1h-1zM455 264h10v1h-10zM467 264h1v1h-1zM451 265h2v1h-2zM455 265h1v2h-1zM458 265h5v1h-5zM464 265h1v1h-1zM466 265h1v1h-1zM468 265h1v2h-1zM457 266h1v1h-1zM459 266h1v1h-1zM461 266h5v1h-5zM471 266h1v1h-1zM455 267h2v1h-2zM459 267h10v1h-10zM470 267h1v1h-1zM473 267h1v2h-1zM459 268h1v2h-1zM463 268h8v1h-8zM476 268h1v1h-1zM462 269h1v1h-1zM464 269h10v1h-10zM475 269h1v1h-1zM461 270h1v1h-1zM464 270h1v2h-1zM467 270h8v1h-8zM477 270h1v1h-1zM480 270h1v1h-1zM466 271h1v1h-1zM468 271h10v1h-10zM479 271h1v1h-1zM465 272h1v1h-1zM468 272h1v2h-1zM471 272h8v1h-8zM481 272h1v1h-1zM484 272h1v1h-1zM471 273h11v1h-11zM483 273h1v1h-1zM470 274h1v1h-1zM473 274h1v2h-1zM476 274h8v1h-8zM486 274h1v1h-1zM489 274h1v1h-1zM475 275h1v1h-1zM477 275h10v1h-10zM488 275h1v1h-1zM474 276h1v1h-1zM477 276h1v2h-1zM480 276h8v1h-8zM490 276h1v1h-1zM493 276h1v1h-1zM479 277h1v1h-1zM481 277h10v1h-10zM492 277h1v1h-1zM477 278h2v1h-2zM481 278h1v3h-1zM484 278h9v1h-9zM495 278h1v1h-1zM498 278h1v1h-1zM484 279h1v1h-1zM486 279h10v1h-10zM497 279h1v1h-1zM483 280h1v1h-1zM486 280h1v2h-1zM489 280h8v1h-8zM499 280h1v1h-1zM488 281h1v1h-1zM490 281h10v1h-10zM502 281h1v1h-1zM486 282h2v1h-2zM490 282h1v3h-1zM493 282h5v1h-5zM499 282h1v1h-1zM501 282h1v1h-1zM493 283h1v1h-1zM495 283h1v1h-1zM497 283h4v1h-4zM503 283h1v1h-1zM506 283h1v1h-1zM492 284h1v1h-1zM494 284h10v1h-10zM505 284h1v1h-1zM495 285h1v2h-1zM498 285h8v1h-8zM508 285h1v1h-1zM511 285h1v1h-1zM497 286h1v1h-1zM499 286h10v1h-10zM510 286h1v1h-1zM496 287h1v1h-1zM499 287h1v2h-1zM502 287h8v1h-8zM501 288h1v1h-1zM503 288h9v1h-9zM500 289h1v1h-1zM503 289h1v3h-1zM506 289h4v1h-4zM506 290h1v1h-1zM508 290h1v4h-1zM510 290h1v1h-1zM505 291h1v1h-1zM511 291h1v1h-1z"/><path fill="#00ffff" d="M508 50h1v3h-1zM503 52h1v1h-1zM503 53h9v1h-9zM499 54h1v1h-1zM503 54h1v1h-1zM505 54h2v1h-2zM508 54h1v1h-1zM499 55h10v1h-10zM495 56h1v1h-1zM499 56h1v1h-1zM501 56h3v1h-3zM508 56h1v3h-1zM494 57h10v1h-10zM490 58h1v1h-1zM495 58h1v1h-1zM497 58h3v1h-3zM503 58h1v3h-1zM490 59h10v1h-10zM486 60h1v1h-1zM490 60h1v1h-1zM492 60h2v1h-2zM495 60h1v1h-1zM499 60h1v3h-1zM486 61h10v1h-10zM481 62h1v1h-1zM486 62h1v1h-1zM488 62h3v1h-3zM495 62h1v3h-1zM481 63h10v1h-10zM477 64h1v1h-1zM481 64h1v1h-1zM483 64h2v1h-2zM486 64h1v1h-1zM490 64h1v3h-1zM477 65h10v1h-10zM473 66h1v1h-1zM477 66h1v1h-1zM479 66h3v1h-3zM486 66h1v3h-1zM472 67h10v1h-10zM468 68h1v1h-1zM473 68h1v1h-1zM475 68h3v1h-3zM481 68h1v3h-1zM468 69h10v1h-10zM464 70h1v1h-1zM468 70h1v1h-1zM470 70h2v1h-2zM473 70h1v1h-1zM477 70h1v3h-1zM464 71h10v1h-10zM459 72h1v1h-1zM464 72h1v1h-1zM466 72h3v1h-3zM473 72h1v3h-1zM459 73h10v1h-10zM455 74h1v1h-1zM459 74h1v1h-1zM461 74h2v1h-2zM464 74h1v1h-1zM468 74h1v3h-1zM455 75h10v1h-10zM451 76h1v1h-1zM455 76h1v1h-1zM457 76h3v1h-3zM464 76h1v3h-1zM450 77h10v1h-10zM446 78h1v1h-1zM451 78h1v1h-1zM453 78h3v1h-3zM459 78h1v3h-1zM446 79h10v1h-10zM442 80h1v1h-1zM446 80h1v1h-1zM448 80h2v1h-2zM451 80h1v1h-1zM455 80h1v3h-1zM437 81h1v2h-1zM442 81h10v1h-10zM442 82h1v1h-1zM444 82h3v1h-3zM451 82h1v3h-1zM433 83h1v2h-1zM437 83h10v1h-10zM437 84h1v1h-1zM439 84h2v1h-2zM442 84h1v1h-1zM446 84h1v3h-1zM429 85h1v2h-1zM433 85h10v1h-10zM433 86h1v1h-1zM435 86h3v1h-3zM442 86h1v3h-1zM424 87h1v2h-1zM429 87h9v1h-9zM429 88h1v1h-1zM431 88h3v1h-3zM437 88h1v2h-1zM420 89h1v2h-1zM424 89h10v1h-10zM424 90h1v1h-1zM426 90h2v1h-2zM429 90h1v1h-1zM433 90h1v2h-1zM415 91h1v2h-1zM420 91h10v1h-10zM420 92h1v1h-1zM422 92h3v1h-3zM429 92h1v2h-1zM411 93h1v2h-1zM415 93h10v1h-10zM415 94h1v1h-1zM417 94h2v1h-2zM420 94h1v1h-1zM424 94h1v2h-1zM407 95h1v2h-1zM411 95h10v1h-10zM411 96h1v1h-1zM413 96h3v1h-3zM420 96h1v2h-1zM402 97h1v2h-1zM407 97h9v1h-9zM407 98h1v1h-1zM409 98h3v1h-3zM415 98h1v2h-1zM398 99h1v2h-1zM402 99h10v1h-10zM402 100h1v1h-1zM404 100h2v1h-2zM407 100h1v1h-1zM411 100h1v2h-1zM394 101h1v2h-1zM398 101h10v1h-10zM398 102h1v1h-1zM400 102h3v1h-3zM407 102h1v2h-1zM389 103h1v2h-1zM393 103h10v1h-10zM394 104h1v1h-1zM396 104h3v1h-3zM402 104h1v2h-1zM389 105h10v1h-10zM385 106h1v1h-1zM389 106h1v1h-1zM391 106h2v1h-2zM394 106h1v1h-1zM398 106h1v2h-1zM385 107h10v1h-10zM380 108h1v1h-1zM385 108h1v1h-1zM387 108h3v1h-3zM394 108h1v2h-1zM380 109h10v1h-10zM376 110h1v1h-1zM380 110h1v1h-1zM382 110h2v1h-2zM385 110h1v1h-1zM389 110h1v2h-1zM376 111h10v1h-10zM372 112h1v1h-1zM376 112h1v1h-1zM378 112h3v1h-3zM385 112h1v3h-1zM371 113h10v1h-10zM367 114h1v1h-1zM372 114h1v1h-1zM374 114h3v1h-3zM380 114h1v3h-1zM367 115h10v1h-10zM363 116h1v1h-1zM367 116h1v1h-1zM369 116h2v1h-2zM372 116h1v1h-1zM376 116h1v3h-1zM363 117h10v1h-10zM358 118h1v1h-1zM363 118h1v1h-1zM365 118h3v1h-3zM372 118h1v3h-1zM358 119h10v1h-10zM354 120h1v1h-1zM358 120h1v1h-1zM360 120h2v1h-2zM363 120h1v1h-1zM367 120h1v3h-1zM354 121h10v1h-10zM350 122h1v1h-1zM354 122h1v1h-1zM356 122h3v1h-3zM363 122h1v3h-1zM349 123h10v1h-10zM345 124h1v1h-1zM350 124h1v1h-1zM352 124h3v1h-3zM358 124h1v3h-1zM341 125h1v2h-1zM345 125h10v1h-10zM345 126h1v1h-1zM347 126h2v1h-2zM350 126h1v1h-1zM354 126h1v3h-1zM336 127h1v2h-1zM341 127h10v1h-10zM341 128h1v1h-1zM343 128h3v1h-3zM350 128h1v3h-1zM332 129h1v2h-1zM336 129h10v1h-10zM336 130h1v1h-1zM338 130h2v1h-2zM341 130h1v1h-1zM345 130h1v3h-1zM328 131h1v1h-1zM332 131h10v1h-10zM328 132h9v1h-9zM341 132h1v2h-1zM323 133h1v1h-1zM328 133h1v1h-1zM330 133h3v1h-3zM336 133h1v3h-1zM323 134h10v1h-10zM319 135h1v1h-1zM323 135h1v1h-1zM325 135h2v1h-2zM328 135h1v1h-1zM332 135h1v3h-1zM319 136h10v1h-10zM314 137h1v1h-1zM319 137h1v1h-1zM321 137h3v1h-3zM328 137h1v3h-1zM314 138h10v1h-10zM310 139h1v1h-1zM314 139h1v1h-1zM316 139h2v1h-2zM319 139h1v1h-1zM323 139h1v3h-1zM310 140h10v1h-10zM306 141h1v1h-1zM310 141h1v1h-1zM312 141h3v1h-3zM319 141h1v3h-1zM306 142h9v1h-9zM301 143h1v1h-1zM306 143h1v1h-1zM308 143h3v1h-3zM314 143h1v3h-1zM301 144h10v1h-10zM297 145h1v1h-1zM301 145h1v1h-1zM303 145h2v1h-2zM306 145h1v1h-1zM310 145h1v3h-1zM297 146h10v1h-10zM292 147h1v1h-1zM297 147h1v1h-1zM299 147h3v1h-3zM306 147h1v3h-1zM292 148h10v1h-10zM288 149h1v1h-1zM292 149h1v1h-1zM294 149h2v1h-2zM297 149h1v1h-1zM301 149h1v3h-1zM288 150h10v1h-10zM284 151h1v1h-1zM288 151h1v1h-1zM290 151h3v1h-3zM297 151h1v3h-1zM284 152h9v1h-9zM279 153h1v1h-1zM284 153h1v1h-1zM286 153h3v1h-3zM292 153h1v3h-1zM279 154h10v1h-10zM275 155h1v1h-1zM279 155h1v1h-1zM281 155h2v1h-2zM284 155h1v1h-1zM288 155h1v3h-1zM275 156h10v1h-10zM271 157h1v1h-1zM275 157h1v1h-1zM277 157h3v1h-3zM284 157h1v3h-1zM270 158h10v1h-10zM266 159h1v1h-1zM271 159h1v1h-1zM273 159h3v1h-3zM279 159h1v3h-1zM266 160h10v1h-10zM262 161h1v1h-1zM266 161h1v1h-1zM268 161h2v1h-2zM271 161h1v1h-1zM275 161h1v3h-1zM262 162h10v1h-10zM257 163h1v1h-1zM262 163h1v1h-1zM264 163h3v1h-3zM271 163h1v3h-1zM257 164h10v1h-10zM253 165h1v1h-1zM257 165h1v1h-1zM259 165h2v1h-2zM262 165h1v1h-1zM266 165h1v3h-1zM253 166h10v1h-10zM249 167h1v1h-1zM253 167h1v1h-1zM255 167h3v1h-3zM262 167h1v3h-1zM248 168h10v1h-10zM244 169h1v1h-1zM249 169h1v1h-1zM251 169h3v1h-3zM257 169h1v3h-1zM244 170h10v1h-10zM240 171h1v1h-1zM244 171h1v1h-1zM246 171h2v1h-2zM249 171h1v1h-1zM253 171h1v3h-1zM240 172h10v1h-10zM235 173h1v1h-1zM240 173h1v1h-1zM242 173h3v1h-3zM249 173h1v3h-1zM235 174h10v1h-10zM231 175h1v1h-1zM235 175h1v1h-1zM237 175h2v1h-2zM240 175h1v1h-1zM244 175h1v3h-1zM231 176h10v1h-10zM227 177h1v1h-1zM231 177h1v1h-1zM233 177h3v1h-3zM240 177h1v3h-1zM227 178h9v1h-9zM222 179h1v1h-1zM227 179h1v1h-1zM229 179h3v1h-3zM235 179h1v3h-1zM222 180h10v1h-10zM218 181h1v1h-1zM222 181h1v1h-1zM224 181h2v1h-2zM227 181h1v1h-1zM231 181h1v3h-1zM218 182h10v1h-10zM213 183h1v1h-1zM218 183h1v1h-1zM220 183h3v1h-3zM227 183h1v3h-1zM213 184h10v1h-10zM209 185h1v1h-1zM213 185h1v1h-1zM215 185h2v1h-2zM218 185h1v1h-1zM222 185h1v3h-1zM209 186h10v1h-10zM205 187h1v1h-1zM209 187h1v1h-1zM211 187h3v1h-3zM218 187h1v3h-1zM205 188h9v1h-9zM200 189h1v1h-1zM205 189h1v1h-1zM207 189h3v1h-3zM213 189h1v3h-1zM200 190h10v1h-10zM196 191h1v1h-1zM200 191h1v1h-1zM202 191h2v1h-2zM205 191h1v1h-1zM209 191h1v3h-1zM196 192h10v1h-10zM191 193h1v1h-1zM196 193h1v1h-1zM198 193h3v1h-3zM205 193h1v3h-1zM191 194h10v1h-10zM187 195h1v1h-1zM191 195h1v1h-1zM193 195h2v1h-2zM196 195h1v1h-1zM200 195h1v3h-1zM187 196h10v1h-10zM183 197h1v1h-1zM187 197h1v1h-1zM189 197h3v1h-3zM196 197h1v3h-1zM183 198h9v1h-9zM178 199h1v1h-1zM183 199h1v1h-1zM185 199h3v1h-3zM191 199h1v3h-1zM178 200h10v1h-10zM174 201h1v1h-1zM178 201h1v1h-1zM180 201h2v1h-2zM183 201h1v1h-1zM187 201h1v3h-1zM174 202h10v1h-10zM170 203h1v1h-1zM174 203h1v1h-1zM176 203h3v1h-3zM183 203h1v3h-1zM169 204h10v1h-10zM165 205h1v1h-1zM170 205h1v1h-1zM172 205h3v1h-3zM178 205h1v3h-1zM161 206h1v2h-1zM165 206h10v1h-10zM165 207h1v1h-1zM167 207h2v1h-2zM170 207h1v1h-1zM174 207h1v3h-1zM156 208h1v2h-1zM161 208h10v1h-10zM152 209h1v3h-1zM161 209h1v1h-1zM163 209h3v1h-3zM170 209h1v3h-1zM73 210h1v4h-1zM82 210h1v4h-1zM90 210h1v4h-1zM99 210h1v4h-1zM108 210h1v4h-1zM117 210h1v4h-1zM121 210h1v4h-1zM126 210h1v4h-1zM130 210h1v4h-1zM134 210h1v4h-1zM148 210h1v2h-1zM156 210h10v1h-10zM69 211h1v3h-1zM77 211h1v3h-1zM86 211h1v3h-1zM95 211h1v3h-1zM104 211h1v3h-1zM112 211h1v3h-1zM139 211h1v3h-1zM143 211h1v3h-1zM156 211h1v1h-1zM158 211h2v1h-2zM161 211h1v1h-1zM165 211h1v3h-1zM147 212h15v1h-15zM148 213h1v1h-1zM150 213h3v1h-3zM156 213h1v4h-1zM161 213h1v2h-1zM68 214h72v1h-72zM143 214h10v1h-10zM64 215h54v1h-54zM121 215h1v4h-1zM126 215h1v4h-1zM130 215h1v4h-1zM134 215h15v1h-15zM152 215h1v3h-1zM69 216h1v4h-1zM73 216h1v3h-1zM77 216h1v4h-1zM82 216h1v3h-1zM86 216h1v4h-1zM90 216h1v3h-1zM95 216h1v4h-1zM99 216h1v3h-1zM104 216h1v4h-1zM108 216h1v3h-1zM112 216h1v4h-1zM117 216h1v3h-1zM134 216h1v3h-1zM139 216h1v4h-1zM143 216h1v4h-1zM148 216h1v3h-1z"/><path fill="#00ff00" d="M181 174h5v1h-5zM173 175h8v1h-8zM186 175h8v1h-8zM168 176h5v1h-5zM194 176h4v1h-4zM165 177h3v1h-3zM198 177h2v1h-2zM163 178h2v1h-2zM200 178h3v1h-3zM159 179h4v1h-4zM203 179h4v1h-4zM156 180h3v1h-3zM207 180h2v1h-2zM154 181h2v1h-2zM209 181h2v1h-2zM152 182h2v1h-2zM211 182h2v1h-2zM150 183h2v1h-2zM213 183h3v1h-3zM147 184h3v1h-3zM216 184h4v1h-4zM145 185h2v1h-2zM220 185h2v1h-2zM143 186h2v1h-2zM222 186h2v1h-2zM141 187h2v1h-2zM224 187h2v1h-2zM138 188h3v1h-3zM226 188h3v1h-3zM136 189h2v1h-2zM229 189h2v1h-2zM134 190h2v1h-2zM231 190h2v1h-2zM132 191h2v1h-2zM233 191h2v1h-2zM130 192h2v1h-2zM235 192h2v1h-2zM128 193h2v1h-2zM237 193h2v1h-2zM125 194h3v1h-3zM239 194h3v1h-3zM123 195h2v1h-2zM242 195h2v1h-2zM121 196h2v1h-2zM244 196h2v1h-2zM119 197h2v1h-2zM246 197h2v1h-2zM116 198h3v1h-3zM248 198h3v1h-3zM114 199h2v1h-2zM251 199h2v1h-2zM111 200h3v1h-3zM253 200h2v1h-2zM108 201h3v1h-3zM255 201h2v1h-2zM107 202h1v1h-1zM257 202h2v1h-2zM105 203h2v1h-2zM259 203h2v1h-2zM102 204h3v1h-3zM261 204h3v1h-3zM99 205h3v1h-3zM264 205h2v1h-2zM98 206h1v1h-1zM266 206h2v1h-2zM96 207h2v1h-2zM268 207h2v1h-2zM93 208h3v1h-3zM270 208h3v1h-3zM90 209h3v1h-3zM273 209h2v1h-2zM88 210h2v1h-2zM275 210h2v1h-2zM86 211h2v1h-2zM277 211h2v1h-2zM77 212h2v1h-2zM85 212h1v1h-1zM279 212h2v1h-2zM75 213h2v1h-2zM79 213h2v1h-2zM83 213h2v1h-2zM281 213h2v1h-2zM73 214h2v1h-2zM81 214h2v1h-2zM283 214h3v1h-3zM72 215h1v1h-1zM286 215h2v1h-2zM70 216h2v1h-2zM288 216h2v1h-2zM69 217h1v1h-1zM290 217h2v1h-2zM292 218h2v1h-2zM294 219h2v1h-2zM296 220h3v1h-3zM299 221h2v1h-2zM301 222h2v1h-2zM303 223h2v1h-2zM305 224h3v1h-3zM308 225h2v1h-2zM310 226h2v1h-2zM312 227h2v1h-2zM314 228h2v1h-2zM316 229h2v1h-2zM318 230h3v1h-3zM321 231h2v1h-2zM323 232h2v1h-2zM325 233h2v1h-2zM327 234h3v1h-3zM330 235h2v1h-2zM332 236h2v1h-2zM334 237h2v1h-2zM336 238h2v1h-2zM338 239h2v1h-2zM340 240h3v1h-3zM343 241h2v1h-2zM345 242h2v1h-2zM347 243h2v1h-2zM349 244h3v1h-3zM352 245h2v1h-2zM354 246h2v1h-2zM356 247h2v1h-2zM358 248h3v1h-3zM361 249h4v1h-4zM365 250h2v1h-2zM367 251h2v1h-2zM369 252h2v1h-2zM371 253h3v1h-3zM374 254h2v1h-2zM376 255h2v1h-2zM378 256h2v1h-2zM380 257h2v1h-2zM382 258h2v1h-2zM384 259h3v1h-3zM387 260h2v1h-2zM389 261h2v1h-2zM391 262h2v1h-2zM393 263h3v1h-3zM396 264h2v1h-2zM398 265h2v1h-2zM400 266h2v1h-2zM402 267h2v1h-2zM404 268h2v1h-2zM406 269h3v1h-3zM409 270h2v1h-2zM411 271h2v1h-2zM413 272h2v1h-2zM415 273h2v1h-2zM417 274h2v1h-2zM419 275h3v1h-3zM422 276h2v1h-2zM424 277h2v1h-2zM426 278h2v1h-2zM428 279h3v1h-3zM431 280h2v1h-2zM433 281h2v1h-2zM435 282h2v1h-2zM437 283h1v1h-1zM438 284h2v1h-2zM440 285h2v1h-2zM442 286h2v1h-2zM444 287h2v1h-2zM446 288h2v1h-2zM448 289h2v1h-2zM450 290h3v1h-3zM453 291h2v1h-2zM455 292h2v1h-2zM457 293h2v1h-2zM459 294h3v1h-3zM462 295h4v1h-4zM466 296h2v1h-2zM468 297h2v1h-2zM470 298h2v1h-2zM472 299h3v1h-3zM475 300h2v1h-2zM477 301h2v1h-2zM479 302h2v1h-2zM481 303h2v1h-2zM483 304h2v1h-2zM485 305h3v1h-3zM488 306h2v1h-2zM490 307h2v1h-2zM492 308h2v1h-2zM494 309h3v1h-3zM497 310h2v1h-2zM499 311h2v1h-2zM501 312h2v1h-2zM503 313h2v1h-2zM505 314h2v1h-2zM507 315h1v1h-1z"/></g>
<rect x="207.1" y="50.3" width="636.9" height="333.7" fill="#ffffff"/>
<path fill="#000000" d="M207.1 50.3H844.0V381.0H841.0V384.0H207.1zM210.1 53.3V381.0H841.0V53.3z" fill-rule="evenodd"/>
<rect x="219.0" y="93.0" width="91.39999999999998" height="3.0" fill="#000000"/>
<path fill="#000000" d="M261.90 81.00h3.0v3.0h-3.0zM264.90 81.00h3.0v3.0h-3.0zM267.90 81.00h3.0v3.0h-3.0zM255.90 84.00h3.0v3.0h-3.0zM258.90 84.00h3.0v3.0h-3.0zM270.90 84.00h3.0v3.0h-3.0zM273.90 84.00h3.0v3.0h-3.0zM255.90 87.00h3.0v3.0h-3.0zM273.90 87.00h3.0v3.0h-3.0zM252.90 90.00h3.0v3.0h-3.0zM276.90 90.00h3.0v3.0h-3.0zM252.90 93.00h3.0v3.0h-3.0zM276.90 93.00h3.0v3.0h-3.0zM252.90 96.00h3.0v3.0h-3.0zM276.90 96.00h3.0v3.0h-3.0zM255.90 99.00h3.0v3.0h-3.0zM273.90 99.00h3.0v3.0h-3.0zM255.90 102.00h3.0v3.0h-3.0zM258.90 102.00h3.0v3.0h-3.0zM270.90 102.00h3.0v3.0h-3.0zM273.90 102.00h3.0v3.0h-3.0zM261.90 105.00h3.0v3.0h-3.0zM264.90 105.00h3.0v3.0h-3.0zM267.90 105.00h3.0v3.0h-3.0z"/>
<rect x="219.0" y="174.9" width="91.39999999999998" height="3.0" fill="#ff0000"/>
<path fill="#ff0000" d="M264.90 165.90h3.0v3.0h-3.0zM264.90 168.90h3.0v3.0h-3.0zM264.90 171.90h3.0v3.0h-3.0zM264.90 174.90h3.0v3.0h-3.0zM264.90 177.90h3.0v3.0h-3.0zM264.90 180.90h3.0v3.0h-3.0zM264.90 183.90h3.0v3.0h-3.0zM264.90 186.90h3.0v3.0h-3.0zM264.90 189.90h3.0v3.0h-3.0zM267.90 177.90h3.0v3.0h-3.0zM261.90 177.90h3.0v3.0h-3.0zM267.90 171.90h3.0v3.0h-3.0zM261.90 171.90h3.0v3.0h-3.0zM270.90 180.90h3.0v3.0h-3.0zM258.90 180.90h3.0v3.0h-3.0zM270.90 168.90h3.0v3.0h-3.0zM258.90 168.90h3.0v3.0h-3.0zM273.90 183.90h3.0v3.0h-3.0zM255.90 183.90h3.0v3.0h-3.0zM273.90 165.90h3.0v3.0h-3.0zM255.90 165.90h3.0v3.0h-3.0z"/>
<rect x="219.0" y="253.8" width="91.39999999999998" height="3.0" fill="#00ffff"/>
<path fill="#00ffff" d="M264.90 244.80h3.0v3.0h-3.0zM264.90 247.80h3.0v3.0h-3.0zM264.90 250.80h3.0v3.0h-3.0zM264.90 253.80h3.0v3.0h-3.0zM264.90 256.80h3.0v3.0h-3.0zM264.90 259.80h3.0v3.0h-3.0zM264.90 262.80h3.0v3.0h-3.0zM264.90 265.80h3.0v3.0h-3.0z"/>
<rect x="219.0" y="335.5" width="91.39999999999998" height="3.0" fill="#00ff00"/>
<g filter="url(#lowres)"><text x="206.6" y="1075.5" font-size="57" text-anchor="middle" fill="#262626" letter-spacing="1.5">0</text>
<text x="471.35" y="1075.5" font-size="57" text-anchor="middle" fill="#262626" letter-spacing="1.5">20</text>
<text x="735.35" y="1075.5" font-size="57" text-anchor="middle" fill="#262626" letter-spacing="1.5">40</text>
<text x="997.55" y="1075.5" font-size="57" text-anchor="middle" fill="#262626" letter-spacing="1.5">60</text>
<text x="1261.75" y="1075.5" font-size="57" text-anchor="middle" fill="#262626" letter-spacing="1.5">80</text>
<text x="1525.75" y="1075.5" font-size="57" text-anchor="middle" fill="#262626" letter-spacing="1.5">100</text>
<text x="189.8" y="71.4" font-size="57" text-anchor="end" fill="#262626" letter-spacing="1.5">100</text>
<text x="189.8" y="368.70000000000005" font-size="57" text-anchor="end" fill="#262626" letter-spacing="1.5">50</text>
<text x="189.8" y="666.0" font-size="57" text-anchor="end" fill="#262626" letter-spacing="1.5">0</text>
<text x="189.8" y="963.1" font-size="57" text-anchor="end" fill="#262626" letter-spacing="1.5">-50</text>
<text x="864.0" y="1153.8" font-size="63.5" text-anchor="middle" fill="#000000" >Input SNR (dB)</text>
<text transform="translate(74.1 527.6) rotate(-90)" font-size="63.5" text-anchor="middle" fill="#000000">output(dB)</text>
<text x="319.0" y="102.5" font-size="48.6" fill="#000000">KB-VSSA-GSC-SNR<tspan font-size="35.0" dy="24" dx="1" letter-spacing="0">F</tspan></text>
<text x="319.0" y="181.0" font-size="48.6" fill="#000000">KB-VSSA-GSC-SNR<tspan font-size="35.0" dy="24" dx="1" letter-spacing="2.2">OUT</tspan></text>
<text x="319.0" y="262.5" font-size="48.6" fill="#000000">VSSA-GSC-SNR<tspan font-size="35.0" dy="24" dx="1" letter-spacing="0">F</tspan></text>
<text x="319.0" y="341.8" font-size="48.6" fill="#000000">VSSA-GSC-SNR<tspan font-size="35.0" dy="24" dx="1" letter-spacing="2.2">OUT</tspan></text></g>
</svg>
</body>
</html>
